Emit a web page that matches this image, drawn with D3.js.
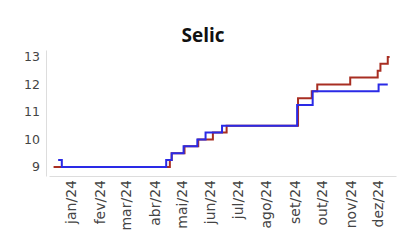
<!DOCTYPE html>
<html>
<head>
<meta charset="utf-8">
<script src="https://cdn.jsdelivr.net/npm/d3@7"></script>
<style>
  body { margin: 0; background: #fff; }
  svg { display: block; }
</style>
</head>
<body>
<svg id="chart" width="405" height="247"></svg>
<script>
// datas de mudança (step)
var blueDates = ["2023-12-17", "2023-12-21", "2024-04-13", "2024-04-19", "2024-05-02", "2024-05-17",
                 "2024-05-26", "2024-06-13", "2024-09-03", "2024-09-20", "2024-12-01", "2024-12-11"];
var blueValues = [9.25, 9.0, 9.25, 9.5, 9.75, 10.0, 10.25, 10.5, 11.25, 11.75, 12.0, 12.0];

var redDates = ["2023-12-12", "2024-04-17", "2024-04-19", "2024-05-03", "2024-05-18", "2024-06-03",
                "2024-06-18", "2024-09-04", "2024-09-19", "2024-09-25", "2024-10-31", "2024-11-30",
                "2024-12-03", "2024-12-11", "2024-12-13"];
var redValues = [9.0, 9.25, 9.5, 9.75, 10.0, 10.25, 10.5, 11.5, 11.75, 12.0, 12.25, 12.5, 12.75, 13.0, 13.0];

var yTicks = [9, 10, 11, 12, 13];
var monthLabels = ["jan/24", "fev/24", "mar/24", "abr/24", "mai/24", "jun/24",
                   "jul/24", "ago/24", "set/24", "out/24", "nov/24", "dez/24"];

var parse = d3.timeParse("%Y-%m-%d");

var svg = d3.select("#chart");

var x = d3.scaleTime()
    .domain([parse("2023-12-07"), parse("2024-12-20")])
    .range([49, 396]);

var y = d3.scaleLinear()
    .domain([8.67, 13.25])
    .range([176, 50]);

// titulo
svg.append("text")
    .attr("x", 203)
    .attr("y", 42)
    .attr("text-anchor", "middle")
    .style("font-family", "Open Sans")
    .style("font-weight", "bold")
    .style("font-size", "19px")
    .style("fill", "#111")
    .text("Selic");

// eixo y
var yAxis = svg.append("g")
    .attr("transform", "translate(46,0)")
    .call(d3.axisLeft(y).tickValues(yTicks).tickSize(0).tickPadding(6).tickFormat(d3.format("d")));
yAxis.select(".domain").attr("stroke", "#ddd");
yAxis.selectAll("text")
    .style("font-family", "DejaVu Sans")
    .style("font-size", "12.5px")
    .style("fill", "#444");

// eixo x
var months = d3.range(12).map(function(i) { return new Date(2024, i, 1); });
var xAxis = svg.append("g")
    .attr("transform", "translate(0,176)")
    .call(d3.axisBottom(x).tickValues(months).tickSize(0)
        .tickFormat(function(d, i) { return monthLabels[i]; }));
xAxis.select(".domain").attr("stroke", "#ddd");
xAxis.selectAll("text")
    .attr("transform", "rotate(-90)")
    .attr("x", -4)
    .attr("y", -1)
    .attr("dy", "0.35em")
    .style("text-anchor", "end")
    .style("font-family", "DejaVu Sans")
    .style("font-size", "14px")
    .style("fill", "#444");

var line = d3.line()
    .x(function(d) { return x(d.date); })
    .y(function(d) { return y(d.value); })
    .curve(d3.curveStepAfter);

function toSeries(dates, values) {
    return dates.map(function(d, i) { return { date: parse(d), value: values[i] }; });
}

svg.append("path")
    .datum(toSeries(redDates, redValues))
    .attr("fill", "none")
    .attr("stroke", "#a82e22")
    .attr("stroke-width", 2)
    .attr("d", line);

svg.append("path")
    .datum(toSeries(blueDates, blueValues))
    .attr("fill", "none")
    .attr("stroke", "#2a2ae6")
    .attr("stroke-width", 2)
    .attr("d", line);
</script>
</body>
</html>
